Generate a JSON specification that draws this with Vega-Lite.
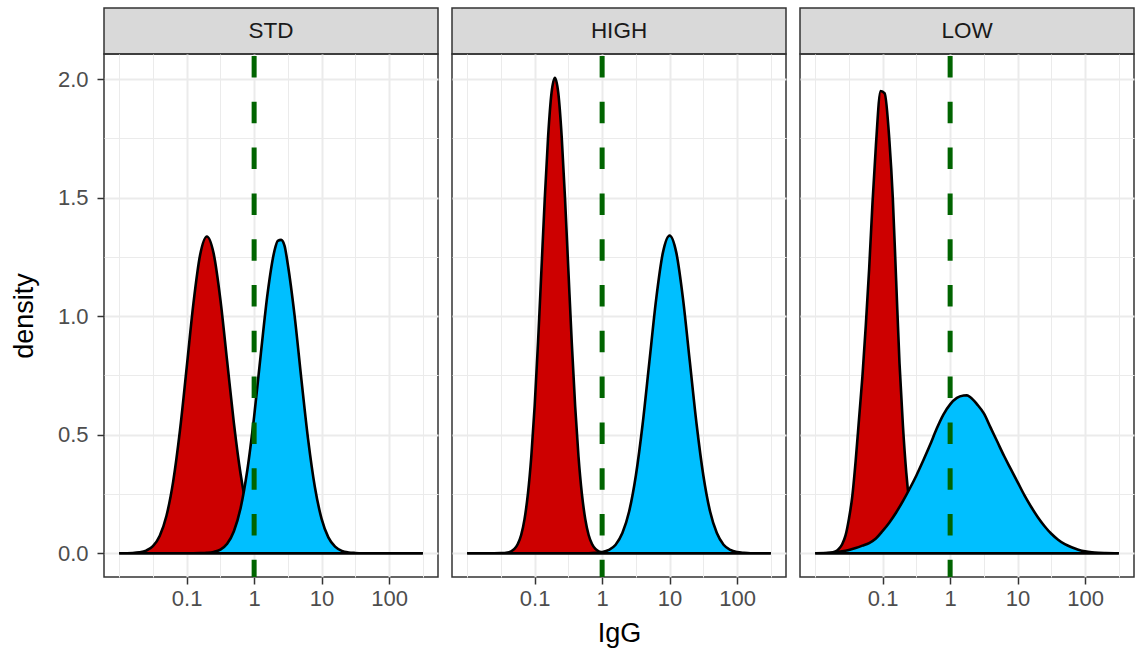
{
  "$schema": "https://vega.github.io/schema/vega-lite/v6.json",
  "background": "white",
  "padding": {"left": 9, "top": 7, "right": 2, "bottom": 2},
  "datasets": {
    "panels": [
      {"panel": "STD", "cutoff": 1},
      {"panel": "HIGH", "cutoff": 1},
      {"panel": "LOW", "cutoff": 1}
    ],
    "dens": [
      {"panel":"STD","group":"neg","IgG":0.01,"density":0},
      {"panel":"STD","group":"neg","IgG":0.015849,"density":0.001},
      {"panel":"STD","group":"neg","IgG":0.019953,"density":0.0035},
      {"panel":"STD","group":"neg","IgG":0.025119,"density":0.011},
      {"panel":"STD","group":"neg","IgG":0.031623,"density":0.030},
      {"panel":"STD","group":"neg","IgG":0.039811,"density":0.073},
      {"panel":"STD","group":"neg","IgG":0.050119,"density":0.157},
      {"panel":"STD","group":"neg","IgG":0.063096,"density":0.302},
      {"panel":"STD","group":"neg","IgG":0.079433,"density":0.516},
      {"panel":"STD","group":"neg","IgG":0.1,"density":0.782},
      {"panel":"STD","group":"neg","IgG":0.12589,"density":1.053},
      {"panel":"STD","group":"neg","IgG":0.15849,"density":1.259},
      {"panel":"STD","group":"neg","IgG":0.19953,"density":1.336},
      {"panel":"STD","group":"neg","IgG":0.25119,"density":1.264},
      {"panel":"STD","group":"neg","IgG":0.31623,"density":1.070},
      {"panel":"STD","group":"neg","IgG":0.39811,"density":0.810},
      {"panel":"STD","group":"neg","IgG":0.50119,"density":0.549},
      {"panel":"STD","group":"neg","IgG":0.63096,"density":0.333},
      {"panel":"STD","group":"neg","IgG":0.79433,"density":0.181},
      {"panel":"STD","group":"neg","IgG":1,"density":0.088},
      {"panel":"STD","group":"neg","IgG":1.2589,"density":0.038},
      {"panel":"STD","group":"neg","IgG":1.5849,"density":0.015},
      {"panel":"STD","group":"neg","IgG":1.9953,"density":0.005},
      {"panel":"STD","group":"neg","IgG":2.5119,"density":0.0016},
      {"panel":"STD","group":"neg","IgG":3.1623,"density":0},
      {"panel":"STD","group":"neg","IgG":316.23,"density":0},

      {"panel":"STD","group":"pos","IgG":0.01,"density":0},
      {"panel":"STD","group":"pos","IgG":0.12589,"density":0},
      {"panel":"STD","group":"pos","IgG":0.15849,"density":0.0004},
      {"panel":"STD","group":"pos","IgG":0.19953,"density":0.0016},
      {"panel":"STD","group":"pos","IgG":0.25119,"density":0.0053},
      {"panel":"STD","group":"pos","IgG":0.31623,"density":0.0154},
      {"panel":"STD","group":"pos","IgG":0.39811,"density":0.040},
      {"panel":"STD","group":"pos","IgG":0.50119,"density":0.093},
      {"panel":"STD","group":"pos","IgG":0.63096,"density":0.191},
      {"panel":"STD","group":"pos","IgG":0.79433,"density":0.352},
      {"panel":"STD","group":"pos","IgG":1,"density":0.576},
      {"panel":"STD","group":"pos","IgG":1.2589,"density":0.843},
      {"panel":"STD","group":"pos","IgG":1.5849,"density":1.097},
      {"panel":"STD","group":"pos","IgG":1.9953,"density":1.274},
      {"panel":"STD","group":"pos","IgG":2.2387,"density":1.318},
      {"panel":"STD","group":"pos","IgG":2.5119,"density":1.322},
      {"panel":"STD","group":"pos","IgG":2.8184,"density":1.298},
      {"panel":"STD","group":"pos","IgG":3.1623,"density":1.217},
      {"panel":"STD","group":"pos","IgG":3.9811,"density":1.001},
      {"panel":"STD","group":"pos","IgG":5.0119,"density":0.734},
      {"panel":"STD","group":"pos","IgG":6.3096,"density":0.480},
      {"panel":"STD","group":"pos","IgG":7.9433,"density":0.279},
      {"panel":"STD","group":"pos","IgG":10,"density":0.145},
      {"panel":"STD","group":"pos","IgG":12.589,"density":0.067},
      {"panel":"STD","group":"pos","IgG":15.849,"density":0.028},
      {"panel":"STD","group":"pos","IgG":19.953,"density":0.010},
      {"panel":"STD","group":"pos","IgG":25.119,"density":0.0033},
      {"panel":"STD","group":"pos","IgG":31.623,"density":0.001},
      {"panel":"STD","group":"pos","IgG":39.811,"density":0},
      {"panel":"STD","group":"pos","IgG":316.23,"density":0},

      {"panel":"HIGH","group":"neg","IgG":0.01,"density":0},
      {"panel":"HIGH","group":"neg","IgG":0.025119,"density":0},
      {"panel":"HIGH","group":"neg","IgG":0.031623,"density":0.0005},
      {"panel":"HIGH","group":"neg","IgG":0.039811,"density":0.0034},
      {"panel":"HIGH","group":"neg","IgG":0.044668,"density":0.008},
      {"panel":"HIGH","group":"neg","IgG":0.050119,"density":0.018},
      {"panel":"HIGH","group":"neg","IgG":0.056234,"density":0.039},
      {"panel":"HIGH","group":"neg","IgG":0.063096,"density":0.077},
      {"panel":"HIGH","group":"neg","IgG":0.070795,"density":0.144},
      {"panel":"HIGH","group":"neg","IgG":0.079433,"density":0.250},
      {"panel":"HIGH","group":"neg","IgG":0.089125,"density":0.407},
      {"panel":"HIGH","group":"neg","IgG":0.1,"density":0.621},
      {"panel":"HIGH","group":"neg","IgG":0.1122,"density":0.889},
      {"panel":"HIGH","group":"neg","IgG":0.12589,"density":1.192},
      {"panel":"HIGH","group":"neg","IgG":0.14125,"density":1.496},
      {"panel":"HIGH","group":"neg","IgG":0.15849,"density":1.761},
      {"panel":"HIGH","group":"neg","IgG":0.17783,"density":1.942},
      {"panel":"HIGH","group":"neg","IgG":0.19953,"density":2.006},
      {"panel":"HIGH","group":"neg","IgG":0.22387,"density":1.942},
      {"panel":"HIGH","group":"neg","IgG":0.25119,"density":1.761},
      {"panel":"HIGH","group":"neg","IgG":0.28184,"density":1.496},
      {"panel":"HIGH","group":"neg","IgG":0.31623,"density":1.192},
      {"panel":"HIGH","group":"neg","IgG":0.35481,"density":0.889},
      {"panel":"HIGH","group":"neg","IgG":0.39811,"density":0.621},
      {"panel":"HIGH","group":"neg","IgG":0.44668,"density":0.407},
      {"panel":"HIGH","group":"neg","IgG":0.50119,"density":0.250},
      {"panel":"HIGH","group":"neg","IgG":0.56234,"density":0.144},
      {"panel":"HIGH","group":"neg","IgG":0.63096,"density":0.077},
      {"panel":"HIGH","group":"neg","IgG":0.70795,"density":0.039},
      {"panel":"HIGH","group":"neg","IgG":0.79433,"density":0.018},
      {"panel":"HIGH","group":"neg","IgG":0.89125,"density":0.008},
      {"panel":"HIGH","group":"neg","IgG":1,"density":0.0034},
      {"panel":"HIGH","group":"neg","IgG":1.2589,"density":0.0005},
      {"panel":"HIGH","group":"neg","IgG":1.5849,"density":0},
      {"panel":"HIGH","group":"neg","IgG":316.23,"density":0},

      {"panel":"HIGH","group":"pos","IgG":0.01,"density":0},
      {"panel":"HIGH","group":"pos","IgG":0.63096,"density":0},
      {"panel":"HIGH","group":"pos","IgG":0.79433,"density":0.0015},
      {"panel":"HIGH","group":"pos","IgG":1,"density":0.0048},
      {"panel":"HIGH","group":"pos","IgG":1.2589,"density":0.014},
      {"panel":"HIGH","group":"pos","IgG":1.5849,"density":0.036},
      {"panel":"HIGH","group":"pos","IgG":1.9953,"density":0.085},
      {"panel":"HIGH","group":"pos","IgG":2.5119,"density":0.176},
      {"panel":"HIGH","group":"pos","IgG":3.1623,"density":0.328},
      {"panel":"HIGH","group":"pos","IgG":3.9811,"density":0.544},
      {"panel":"HIGH","group":"pos","IgG":5.0119,"density":0.807},
      {"panel":"HIGH","group":"pos","IgG":6.3096,"density":1.070},
      {"panel":"HIGH","group":"pos","IgG":7.9433,"density":1.267},
      {"panel":"HIGH","group":"pos","IgG":10,"density":1.340},
      {"panel":"HIGH","group":"pos","IgG":12.589,"density":1.267},
      {"panel":"HIGH","group":"pos","IgG":15.849,"density":1.070},
      {"panel":"HIGH","group":"pos","IgG":19.953,"density":0.807},
      {"panel":"HIGH","group":"pos","IgG":25.119,"density":0.544},
      {"panel":"HIGH","group":"pos","IgG":31.623,"density":0.328},
      {"panel":"HIGH","group":"pos","IgG":39.811,"density":0.176},
      {"panel":"HIGH","group":"pos","IgG":50.119,"density":0.085},
      {"panel":"HIGH","group":"pos","IgG":63.096,"density":0.036},
      {"panel":"HIGH","group":"pos","IgG":79.433,"density":0.014},
      {"panel":"HIGH","group":"pos","IgG":100,"density":0.0048},
      {"panel":"HIGH","group":"pos","IgG":125.89,"density":0.0015},
      {"panel":"HIGH","group":"pos","IgG":158.49,"density":0},
      {"panel":"HIGH","group":"pos","IgG":316.23,"density":0},

      {"panel":"LOW","group":"neg","IgG":0.01,"density":0},
      {"panel":"LOW","group":"neg","IgG":0.015849,"density":0.001},
      {"panel":"LOW","group":"neg","IgG":0.019953,"density":0.007},
      {"panel":"LOW","group":"neg","IgG":0.022387,"density":0.018},
      {"panel":"LOW","group":"neg","IgG":0.025119,"density":0.038},
      {"panel":"LOW","group":"neg","IgG":0.028184,"density":0.075},
      {"panel":"LOW","group":"neg","IgG":0.031623,"density":0.145},
      {"panel":"LOW","group":"neg","IgG":0.035481,"density":0.24},
      {"panel":"LOW","group":"neg","IgG":0.039811,"density":0.39},
      {"panel":"LOW","group":"neg","IgG":0.044668,"density":0.567},
      {"panel":"LOW","group":"neg","IgG":0.050119,"density":0.745},
      {"panel":"LOW","group":"neg","IgG":0.056234,"density":0.96},
      {"panel":"LOW","group":"neg","IgG":0.063096,"density":1.20},
      {"panel":"LOW","group":"neg","IgG":0.070795,"density":1.48},
      {"panel":"LOW","group":"neg","IgG":0.079433,"density":1.72},
      {"panel":"LOW","group":"neg","IgG":0.093325,"density":1.95},
      {"panel":"LOW","group":"neg","IgG":0.10715,"density":1.94},
      {"panel":"LOW","group":"neg","IgG":0.12589,"density":1.74},
      {"panel":"LOW","group":"neg","IgG":0.14125,"density":1.50},
      {"panel":"LOW","group":"neg","IgG":0.15849,"density":1.15},
      {"panel":"LOW","group":"neg","IgG":0.17783,"density":0.80},
      {"panel":"LOW","group":"neg","IgG":0.19953,"density":0.54},
      {"panel":"LOW","group":"neg","IgG":0.22387,"density":0.34},
      {"panel":"LOW","group":"neg","IgG":0.25119,"density":0.20},
      {"panel":"LOW","group":"neg","IgG":0.28184,"density":0.10},
      {"panel":"LOW","group":"neg","IgG":0.31623,"density":0.05},
      {"panel":"LOW","group":"neg","IgG":0.35481,"density":0.022},
      {"panel":"LOW","group":"neg","IgG":0.39811,"density":0.009},
      {"panel":"LOW","group":"neg","IgG":0.50119,"density":0.001},
      {"panel":"LOW","group":"neg","IgG":0.63096,"density":0},
      {"panel":"LOW","group":"neg","IgG":316.23,"density":0},

      {"panel":"LOW","group":"pos","IgG":0.01,"density":0},
      {"panel":"LOW","group":"pos","IgG":0.015849,"density":0.002},
      {"panel":"LOW","group":"pos","IgG":0.019953,"density":0.004},
      {"panel":"LOW","group":"pos","IgG":0.025119,"density":0.008},
      {"panel":"LOW","group":"pos","IgG":0.031623,"density":0.014},
      {"panel":"LOW","group":"pos","IgG":0.039811,"density":0.022},
      {"panel":"LOW","group":"pos","IgG":0.050119,"density":0.032},
      {"panel":"LOW","group":"pos","IgG":0.063096,"density":0.043},
      {"panel":"LOW","group":"pos","IgG":0.079433,"density":0.062},
      {"panel":"LOW","group":"pos","IgG":0.1,"density":0.094},
      {"panel":"LOW","group":"pos","IgG":0.12589,"density":0.13},
      {"panel":"LOW","group":"pos","IgG":0.15849,"density":0.172},
      {"panel":"LOW","group":"pos","IgG":0.19953,"density":0.22},
      {"panel":"LOW","group":"pos","IgG":0.25119,"density":0.272},
      {"panel":"LOW","group":"pos","IgG":0.31623,"density":0.328},
      {"panel":"LOW","group":"pos","IgG":0.39811,"density":0.39},
      {"panel":"LOW","group":"pos","IgG":0.50119,"density":0.455},
      {"panel":"LOW","group":"pos","IgG":0.63096,"density":0.525},
      {"panel":"LOW","group":"pos","IgG":0.79433,"density":0.585},
      {"panel":"LOW","group":"pos","IgG":1,"density":0.628},
      {"panel":"LOW","group":"pos","IgG":1.2589,"density":0.655},
      {"panel":"LOW","group":"pos","IgG":1.5849,"density":0.665},
      {"panel":"LOW","group":"pos","IgG":1.7783,"density":0.666},
      {"panel":"LOW","group":"pos","IgG":1.9953,"density":0.658},
      {"panel":"LOW","group":"pos","IgG":2.5119,"density":0.628},
      {"panel":"LOW","group":"pos","IgG":3.1623,"density":0.59},
      {"panel":"LOW","group":"pos","IgG":3.9811,"density":0.53},
      {"panel":"LOW","group":"pos","IgG":5.0119,"density":0.47},
      {"panel":"LOW","group":"pos","IgG":6.3096,"density":0.41},
      {"panel":"LOW","group":"pos","IgG":7.9433,"density":0.355},
      {"panel":"LOW","group":"pos","IgG":10,"density":0.30},
      {"panel":"LOW","group":"pos","IgG":12.589,"density":0.245},
      {"panel":"LOW","group":"pos","IgG":15.849,"density":0.196},
      {"panel":"LOW","group":"pos","IgG":19.953,"density":0.152},
      {"panel":"LOW","group":"pos","IgG":25.119,"density":0.114},
      {"panel":"LOW","group":"pos","IgG":31.623,"density":0.082},
      {"panel":"LOW","group":"pos","IgG":39.811,"density":0.057},
      {"panel":"LOW","group":"pos","IgG":50.119,"density":0.038},
      {"panel":"LOW","group":"pos","IgG":63.096,"density":0.025},
      {"panel":"LOW","group":"pos","IgG":79.433,"density":0.015},
      {"panel":"LOW","group":"pos","IgG":100,"density":0.008},
      {"panel":"LOW","group":"pos","IgG":125.89,"density":0.004},
      {"panel":"LOW","group":"pos","IgG":158.49,"density":0.002},
      {"panel":"LOW","group":"pos","IgG":199.53,"density":0.001},
      {"panel":"LOW","group":"pos","IgG":316.23,"density":0}
    ]
  },
  "spacing": 12,
  "hconcat": [
    {
      "spacing": 0,
      "bounds": "flush",
      "vconcat": [
        {
          "data": {"name": "panels"},
          "transform": [{"filter": "datum.panel === 'STD'"}],
          "width": 334, "height": 46,
          "view": {"fill": "#D9D9D9", "stroke": "#333333", "strokeWidth": 1.5},
          "mark": {"type": "text", "fontSize": 22.5, "color": "#1A1A1A", "font": "Liberation Sans"},
          "encoding": {"text": {"field": "panel", "type": "nominal"}}
        },
        {
          "width": 334, "height": 523,
          "layer": [
            {
              "data": {"name": "dens"},
              "transform": [{"filter": "datum.panel === 'STD' && datum.group === 'neg'"}],
              "mark": {"type": "area", "interpolate": "monotone", "stroke": "black", "strokeWidth": 2.6},
              "encoding": {
                "x": {"field": "IgG", "type": "quantitative", "title": null,
                  "scale": {"type": "log", "domain": [0.005957, 530.88], "nice": false},
                  "axis": {"values": [0.01, 0.031623, 0.1, 0.31623, 1, 3.1623, 10, 31.623, 100, 316.23], "format": "~g", "labelOverlap": false, "labelFlush": false,
                    "labelExpr": "indexof([0.1,1,10,100], datum.value) >= 0 ? datum.label : ''",
                    "gridWidth": {"condition": {"test": "indexof([0.1,1,10,100], datum.value) >= 0", "value": 2}, "value": 1},
                    "tickOpacity": {"condition": {"test": "indexof([0.1,1,10,100], datum.value) >= 0", "value": 1}, "value": 0}}},
                "y": {"field": "density", "type": "quantitative", "title": "density",
                  "scale": {"domain": [-0.1003, 2.106], "nice": false, "zero": false},
                  "axis": {"values": [0, 0.25, 0.5, 0.75, 1, 1.25, 1.5, 1.75, 2], "format": ".1f", "labelPadding": 9, "titlePadding": 19,
                    "labelExpr": "datum.value * 2 % 1 == 0 ? datum.label : ''",
                    "gridWidth": {"condition": {"test": "datum.value * 2 % 1 == 0", "value": 2}, "value": 1},
                    "tickOpacity": {"condition": {"test": "datum.value * 2 % 1 == 0", "value": 1}, "value": 0}}},
                "fill": {"field": "group", "type": "nominal", "scale": {"domain": ["neg", "pos"], "range": ["#CD0000", "#00BFFF"]}, "legend": null}
              }
            },
            {
              "data": {"name": "dens"},
              "transform": [{"filter": "datum.panel === 'STD' && datum.group === 'pos'"}],
              "mark": {"type": "area", "interpolate": "monotone", "stroke": "black", "strokeWidth": 2.6},
              "encoding": {
                "x": {"field": "IgG", "type": "quantitative", "title": null},
                "y": {"field": "density", "type": "quantitative", "title": "density"},
                "fill": {"field": "group", "type": "nominal", "legend": null}
              }
            },
            {
              "data": {"name": "panels"},
              "transform": [{"filter": "datum.panel === 'STD'"}],
              "mark": {"type": "rule", "color": "#006400", "strokeWidth": 5, "strokeDash": [21.5, 24.3], "strokeDashOffset": 43.8},
              "encoding": {"x": {"field": "cutoff", "type": "quantitative", "title": null}}
            }
          ]
        }
      ]
    },
    {
      "spacing": 0,
      "bounds": "flush",
      "vconcat": [
        {
          "data": {"name": "panels"},
          "transform": [{"filter": "datum.panel === 'HIGH'"}],
          "width": 334, "height": 46,
          "view": {"fill": "#D9D9D9", "stroke": "#333333", "strokeWidth": 1.5},
          "mark": {"type": "text", "fontSize": 22.5, "color": "#1A1A1A", "font": "Liberation Sans"},
          "encoding": {"text": {"field": "panel", "type": "nominal"}}
        },
        {
          "width": 334, "height": 523,
          "layer": [
            {
              "data": {"name": "dens"},
              "transform": [{"filter": "datum.panel === 'HIGH' && datum.group === 'neg'"}],
              "mark": {"type": "area", "interpolate": "monotone", "stroke": "black", "strokeWidth": 2.6},
              "encoding": {
                "x": {"field": "IgG", "type": "quantitative", "title": "IgG",
                  "scale": {"type": "log", "domain": [0.005957, 530.88], "nice": false},
                  "axis": {"values": [0.01, 0.031623, 0.1, 0.31623, 1, 3.1623, 10, 31.623, 100, 316.23], "format": "~g", "labelOverlap": false, "labelFlush": false, "titlePadding": 11,
                    "labelExpr": "indexof([0.1,1,10,100], datum.value) >= 0 ? datum.label : ''",
                    "gridWidth": {"condition": {"test": "indexof([0.1,1,10,100], datum.value) >= 0", "value": 2}, "value": 1},
                    "tickOpacity": {"condition": {"test": "indexof([0.1,1,10,100], datum.value) >= 0", "value": 1}, "value": 0}}},
                "y": {"field": "density", "type": "quantitative", "title": null,
                  "scale": {"domain": [-0.1003, 2.106], "nice": false, "zero": false},
                  "axis": {"values": [0, 0.25, 0.5, 0.75, 1, 1.25, 1.5, 1.75, 2], "labels": false, "ticks": false,
                    "gridWidth": {"condition": {"test": "datum.value * 2 % 1 == 0", "value": 2}, "value": 1}}},
                "fill": {"field": "group", "type": "nominal", "scale": {"domain": ["neg", "pos"], "range": ["#CD0000", "#00BFFF"]}, "legend": null}
              }
            },
            {
              "data": {"name": "dens"},
              "transform": [{"filter": "datum.panel === 'HIGH' && datum.group === 'pos'"}],
              "mark": {"type": "area", "interpolate": "monotone", "stroke": "black", "strokeWidth": 2.6},
              "encoding": {
                "x": {"field": "IgG", "type": "quantitative", "title": "IgG"},
                "y": {"field": "density", "type": "quantitative", "title": null},
                "fill": {"field": "group", "type": "nominal", "legend": null}
              }
            },
            {
              "data": {"name": "panels"},
              "transform": [{"filter": "datum.panel === 'HIGH'"}],
              "mark": {"type": "rule", "color": "#006400", "strokeWidth": 5, "strokeDash": [21.5, 24.3], "strokeDashOffset": 43.8},
              "encoding": {"x": {"field": "cutoff", "type": "quantitative", "title": "IgG"}}
            }
          ]
        }
      ]
    },
    {
      "spacing": 0,
      "bounds": "flush",
      "vconcat": [
        {
          "data": {"name": "panels"},
          "transform": [{"filter": "datum.panel === 'LOW'"}],
          "width": 334, "height": 46,
          "view": {"fill": "#D9D9D9", "stroke": "#333333", "strokeWidth": 1.5},
          "mark": {"type": "text", "fontSize": 22.5, "color": "#1A1A1A", "font": "Liberation Sans"},
          "encoding": {"text": {"field": "panel", "type": "nominal"}}
        },
        {
          "width": 334, "height": 523,
          "layer": [
            {
              "data": {"name": "dens"},
              "transform": [{"filter": "datum.panel === 'LOW' && datum.group === 'neg'"}],
              "mark": {"type": "area", "interpolate": "monotone", "stroke": "black", "strokeWidth": 2.6},
              "encoding": {
                "x": {"field": "IgG", "type": "quantitative", "title": null,
                  "scale": {"type": "log", "domain": [0.005957, 530.88], "nice": false},
                  "axis": {"values": [0.01, 0.031623, 0.1, 0.31623, 1, 3.1623, 10, 31.623, 100, 316.23], "format": "~g", "labelOverlap": false, "labelFlush": false,
                    "labelExpr": "indexof([0.1,1,10,100], datum.value) >= 0 ? datum.label : ''",
                    "gridWidth": {"condition": {"test": "indexof([0.1,1,10,100], datum.value) >= 0", "value": 2}, "value": 1},
                    "tickOpacity": {"condition": {"test": "indexof([0.1,1,10,100], datum.value) >= 0", "value": 1}, "value": 0}}},
                "y": {"field": "density", "type": "quantitative", "title": null,
                  "scale": {"domain": [-0.1003, 2.106], "nice": false, "zero": false},
                  "axis": {"values": [0, 0.25, 0.5, 0.75, 1, 1.25, 1.5, 1.75, 2], "labels": false, "ticks": false,
                    "gridWidth": {"condition": {"test": "datum.value * 2 % 1 == 0", "value": 2}, "value": 1}}},
                "fill": {"field": "group", "type": "nominal", "scale": {"domain": ["neg", "pos"], "range": ["#CD0000", "#00BFFF"]}, "legend": null}
              }
            },
            {
              "data": {"name": "dens"},
              "transform": [{"filter": "datum.panel === 'LOW' && datum.group === 'pos'"}],
              "mark": {"type": "area", "interpolate": "monotone", "stroke": "black", "strokeWidth": 2.6},
              "encoding": {
                "x": {"field": "IgG", "type": "quantitative", "title": null},
                "y": {"field": "density", "type": "quantitative", "title": null},
                "fill": {"field": "group", "type": "nominal", "legend": null}
              }
            },
            {
              "data": {"name": "panels"},
              "transform": [{"filter": "datum.panel === 'LOW'"}],
              "mark": {"type": "rule", "color": "#006400", "strokeWidth": 5, "strokeDash": [21.5, 24.3], "strokeDashOffset": 43.8},
              "encoding": {"x": {"field": "cutoff", "type": "quantitative", "title": null}}
            }
          ]
        }
      ]
    }
  ],
  "config": {
    "font": "Liberation Sans",
    "view": {"stroke": "#333333", "strokeWidth": 1.5},
    "axis": {
      "domain": false,
      "gridColor": "#EBEBEB",
      "tickColor": "#333333",
      "tickWidth": 1.5,
      "tickSize": 7,
      "labelFont": "Liberation Sans",
      "labelFontSize": 22,
      "labelColor": "#4D4D4D",
      "labelPadding": 4,
      "titleFont": "Liberation Sans",
      "titleFontSize": 27,
      "titleFontWeight": "normal",
      "titleColor": "#000000"
    }
  }
}
